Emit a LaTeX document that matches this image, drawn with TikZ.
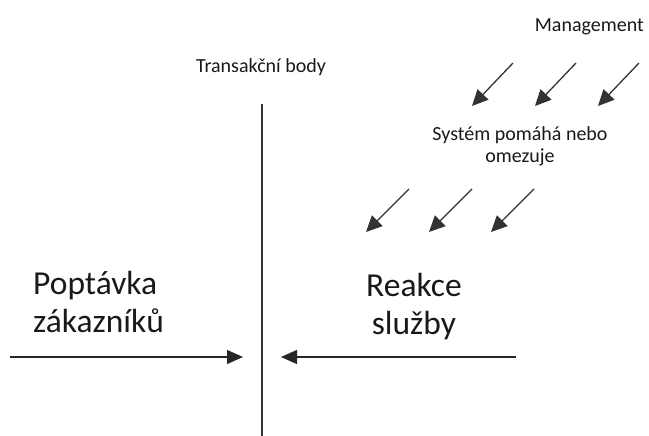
\documentclass[tikz,border=0pt]{standalone}
\usepackage{fontspec}
\setmainfont{Carlito}
\usetikzlibrary{arrows.meta}
\begin{document}
\begin{tikzpicture}[x=1pt,y=-1pt,
  txt/.style={inner sep=0pt,text=black!90,font=\fontsize{20}{23}\selectfont},
  bigtxt/.style={inner sep=0pt,text=black!90,font=\fontsize{33.5}{38}\selectfont},
  flow/.style={line width=1.3pt,draw=black!85,-{Triangle[length=16pt,width=14pt]}},
  force/.style={line width=1.3pt,draw=black!80,-{Triangle[length=16pt,width=15pt]}},
  divider/.style={line width=1.6pt,draw=black!80}]
\useasboundingbox (0,0) rectangle (649,436);

% transaction line
\coordinate (lineTop) at (262,104);
\coordinate (lineBot) at (262,436);
\draw[divider] (lineTop) -- (lineBot);
\node[txt,anchor=base] (trans) at (261,73) {Transakční body};

% management and its influence
\node[txt,anchor=base east] (mgmt) at (644,32) {Management};
\foreach \i/\x in {1/513,2/576,3/639}{
  \coordinate (mA\i) at (\x,63);
  \coordinate (mB\i) at (\x-41,106);
  \draw[force] (mA\i) -- (mB\i);
}
\node[txt,anchor=base,align=center] (sys) at (520,163) {Systém pomáhá nebo\\omezuje};
\foreach \i/\x in {1/409,2/472,3/534}{
  \coordinate (sA\i) at (\x,189);
  \coordinate (sB\i) at (\x-43,232);
  \draw[force] (sA\i) -- (sB\i);
}

% demand and response
\node[bigtxt,anchor=base west,align=left] (demand) at (33,332) {Poptávka\\zákazníků};
\node[bigtxt,anchor=base,align=center] (resp) at (414,334) {Reakce\\služby};
\coordinate (dStart) at (10,357);
\coordinate (dEnd) at (243,357);
\coordinate (rStart) at (516,357);
\coordinate (rEnd) at (281,357);
\draw[flow] (dStart) -- (dEnd);
\draw[flow] (rStart) -- (rEnd);
\end{tikzpicture}
\end{document}
